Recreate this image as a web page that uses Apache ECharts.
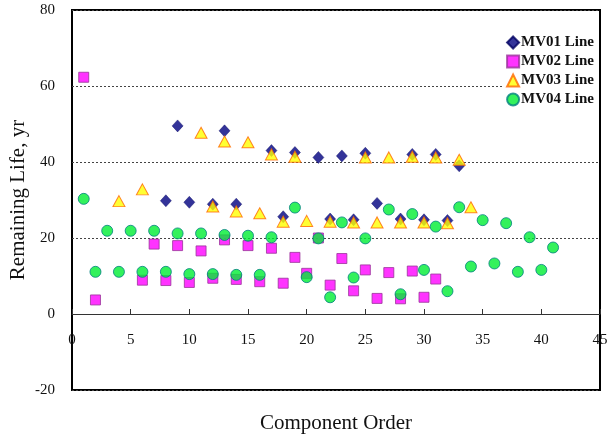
<!DOCTYPE html>
<html>
<head>
<meta charset="utf-8">
<script src="https://cdn.jsdelivr.net/npm/echarts@6/dist/echarts.min.js"></script>
<style>
html,body{margin:0;padding:0;background:#fff;}
#chart{width:607px;height:438px;}
</style>
</head>
<body>
<div id="chart"></div>
<script>
// Data
const mv01X = [8, 9, 10, 12, 13, 14, 17, 18, 19, 21, 22, 23, 24, 25, 26, 28, 29, 30, 31, 32, 33];
const mv01Y = [29.8, 49.5, 29.4, 28.9, 48.2, 28.9, 43.0, 25.6, 42.5, 41.2, 25.0, 41.6, 24.8, 42.3, 29.1, 25.0, 42.0, 24.8, 42.0, 24.6, 39.0];

const mv02X = [1, 2, 6, 7, 8, 9, 10, 11, 12, 13, 14, 15, 16, 17, 18, 19, 20, 21, 22, 23, 24, 25, 26, 27, 28, 29, 30, 31];
const mv02Y = [62.3, 3.7, 8.9, 18.4, 8.8, 18.0, 8.3, 16.6, 9.4, 19.5, 9.1, 18.0, 8.5, 17.3, 8.1, 14.9, 10.7, 20.0, 7.6, 14.6, 6.1, 11.6, 4.1, 10.9, 4.0, 11.3, 4.4, 9.2];

const mv03X = [4, 6, 11, 12, 13, 14, 15, 16, 17, 18, 19, 20, 22, 24, 25, 26, 27, 28, 29, 30, 31, 32, 33, 34];
const mv03Y = [29.7, 32.8, 47.7, 28.3, 45.4, 27.0, 45.2, 26.5, 42.0, 24.3, 41.4, 24.5, 24.3, 24.1, 41.2, 24.1, 41.2, 24.1, 41.4, 24.1, 41.2, 23.9, 40.6, 28.1];

const mv04X = [1, 2, 3, 4, 5, 6, 7, 8, 9, 10, 11, 12, 13, 14, 15, 16, 17, 19, 20, 21, 22, 23, 24, 25, 27, 28, 29, 30, 31, 32, 33, 34, 35, 36, 37, 38, 39, 40, 41];
const mv04Y = [30.3, 11.1, 21.9, 11.1, 21.9, 11.1, 21.9, 11.1, 21.2, 10.5, 21.2, 10.5, 20.8, 10.3, 20.6, 10.3, 20.2, 28.0, 9.7, 19.9, 4.4, 24.1, 9.6, 19.9, 27.5, 5.2, 26.3, 11.6, 23.0, 6.0, 28.1, 12.5, 24.7, 13.3, 23.9, 11.1, 20.2, 11.6, 17.5];

const seriesNames = ['MV01 Line', 'MV02 Line', 'MV03 Line', 'MV04 Line'];
const xTicks = {min: 0, max: 45, interval: 5};
const yTicks = {min: -20, max: 80, interval: 20};

function pairs(xs, ys) { return xs.map((x, i) => [x, ys[i]]); }

const serif = 'Liberation Serif, Times New Roman, serif';
const gridTop = 10, gridBottom = 48, chartH = 438;
// x axis drawn through y = 0 (shift from grid bottom to the zero position)
const plotH = chartH - gridTop - gridBottom;
const zeroShift = plotH * (0 - yTicks.min) / (yTicks.max - yTicks.min);

const chart = echarts.init(document.getElementById('chart'), null, {renderer: 'canvas'});
chart.setOption({
  backgroundColor: '#ffffff',
  animation: false,
  grid: {left: 72, right: 7, top: gridTop, bottom: gridBottom, containLabel: false, outerBoundsMode: 'none',
         show: true, borderColor: '#000', borderWidth: 2, backgroundColor: 'transparent'},
  legend: {
    data: seriesNames,
    orient: 'vertical',
    right: 9, top: 31,
    itemGap: 4, itemWidth: 12, itemHeight: 12,
    padding: [4, 4, 4, 4],
    backgroundColor: '#ffffff',
    textStyle: {fontFamily: serif, fontSize: 15, fontWeight: 'bold', color: '#111', lineHeight: 15, padding: [0, 0, 0, -3]}
  },
  xAxis: {
    type: 'value', min: xTicks.min, max: xTicks.max, interval: xTicks.interval,
    position: 'bottom', offset: -zeroShift,
    name: 'Component Order', nameLocation: 'middle', nameGap: 99, nameMoveOverlap: false,
    nameTextStyle: {fontFamily: serif, fontSize: 21, color: '#111'},
    axisLine: {show: true, onZero: false, lineStyle: {color: '#333', width: 1}},
    axisTick: {show: true, inside: true, length: 5, lineStyle: {color: '#333'}},
    axisLabel: {fontFamily: serif, fontSize: 15, color: '#111', margin: 19, showMinLabel: true, showMaxLabel: true},
    splitLine: {show: false}
  },
  yAxis: {
    type: 'value', min: yTicks.min, max: yTicks.max, interval: yTicks.interval,
    name: 'Remaining Life, yr', nameLocation: 'middle', nameGap: 43, nameMoveOverlap: false,
    nameTextStyle: {fontFamily: serif, fontSize: 21, color: '#111'},
    axisLine: {show: false},
    axisTick: {show: false},
    axisLabel: {fontFamily: serif, fontSize: 15, color: '#111', margin: 17},
    splitLine: {show: true, lineStyle: {color: '#444', width: 1, type: [2, 2]}}
  },
  series: [
    {name: seriesNames[0], type: 'scatter', symbol: 'diamond', symbolSize: [11, 12],
     itemStyle: {color: '#000080', borderColor: '#000060', borderWidth: 0.5}, data: pairs(mv01X, mv01Y)},
    {name: seriesNames[1], type: 'scatter', symbol: 'rect', symbolSize: 10,
     itemStyle: {color: '#ff00ff', borderColor: '#993399', borderWidth: 1}, data: pairs(mv02X, mv02Y)},
    {name: seriesNames[2], type: 'scatter', symbol: 'triangle', symbolSize: [12, 11],
     itemStyle: {color: '#ffff00', borderColor: '#ff6600', borderWidth: 1}, data: pairs(mv03X, mv03Y)},
    {name: seriesNames[3], type: 'scatter', symbol: 'circle', symbolSize: 11,
     itemStyle: {color: '#00ee33', borderColor: '#008080', borderWidth: 1}, data: pairs(mv04X, mv04Y)}
  ]
});
</script>
</body>
</html>
